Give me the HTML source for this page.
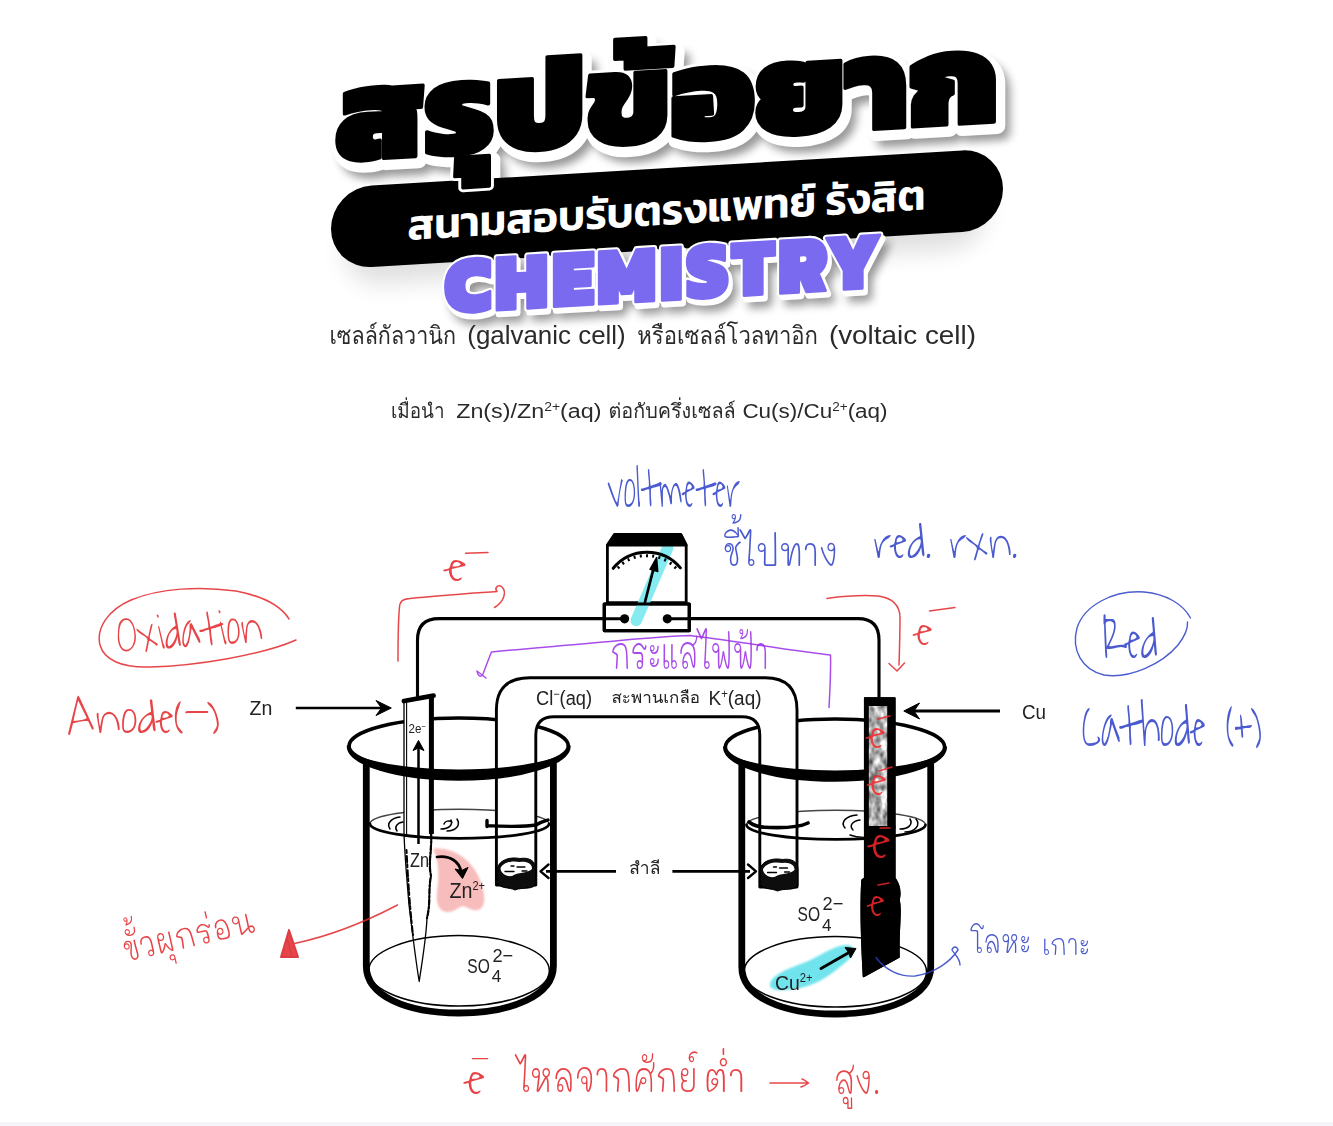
<!DOCTYPE html>
<html lang="th">
<head>
<meta charset="utf-8">
<title>สรุปข้อยาก CHEMISTRY</title>
<style>
html,body{margin:0;padding:0;background:#fff;}
body{width:1333px;height:1126px;position:relative;overflow:hidden;font-family:"Liberation Sans","Loma","Noto Sans Thai",sans-serif;}
.abs{position:absolute;white-space:nowrap;}
svg text{white-space:pre;}
</style>
</head>
<body>
<svg id="hdrsvg" class="abs" style="left:0;top:0" width="1333" height="340" viewBox="0 0 1333 340">
<defs>
<filter id="sh" x="-5%" y="-20%" width="110%" height="150%"><feGaussianBlur stdDeviation="4.5"/></filter>
<filter id="sh2" x="-10%" y="-50%" width="120%" height="250%"><feGaussianBlur stdDeviation="12"/></filter>
</defs>
<g transform="translate(0,39.6) skewY(-3.4)">
  <g transform="translate(667,0) scale(1.05,1)" font-family="Kanit, Prompt, 'Liberation Sans', 'Noto Sans Thai', sans-serif" font-weight="900" font-size="131" text-anchor="middle" stroke-linejoin="round">
    <text x="9" y="154" fill="#000" opacity=".4" filter="url(#sh)" stroke="#000" stroke-width="12">สรุปข้อยาก</text>
    <text x="3" y="146" fill="#fff" stroke="#fff" stroke-width="15">สรุปข้อยาก</text>
  </g>
  <rect x="345" y="196" width="640" height="70" rx="35" fill="#000" opacity=".13" filter="url(#sh2)"/>
  <rect x="331" y="168" width="672" height="81.5" rx="40.75" fill="#000"/>
  <g transform="translate(667,0) scale(1.05,1)" font-family="Kanit, Prompt, 'Liberation Sans', 'Noto Sans Thai', sans-serif" font-weight="900" font-size="131" text-anchor="middle" stroke-linejoin="round">
    <text x="0" y="141.5" fill="#000" stroke="#fff" stroke-width="9">สรุปข้อยาก</text>
    <text x="0" y="141.5" fill="#000" stroke="#000" stroke-width="3.5">สรุปข้อยาก</text>
  </g>
  <text x="666.5" y="224.6" text-anchor="middle" fill="#fff" font-family="Kanit, Prompt, 'Liberation Sans', 'Noto Sans Thai', sans-serif" font-weight="600" font-size="42.5">สนามสอบรับตรงแพทย์ รังสิต</text>
  <g transform="translate(662,300) scale(1,1.07)" font-family="Kanit, Prompt, 'Liberation Sans', sans-serif" font-weight="900" font-size="76" letter-spacing="2.9" text-anchor="middle" stroke-linejoin="round">
    <text x="9" y="9" fill="#000" opacity=".4" filter="url(#sh)" stroke="#000" stroke-width="6">CHEMISTRY</text>
    <text x="4.2" y="3.6" fill="#fff" stroke="#fff" stroke-width="6.5">CHEMISTRY</text>
    <text x="2" y="0" fill="#fff" stroke="#fff" stroke-width="6.5">CHEMISTRY</text>
    <text x="2" y="0" fill="#7a6af0" stroke="#7a6af0" stroke-width="2.6">CHEMISTRY</text>
  </g>
</g>
</svg>
<!--DIAGRAM-START-->
<svg id="dia" class="abs" style="left:0;top:0" width="1333" height="1126" viewBox="0 0 1333 1126">
<defs>
<filter id="soft" x="-5%" y="-5%" width="110%" height="110%"><feGaussianBlur stdDeviation="0.4"/></filter>
<filter id="hl" x="-20%" y="-20%" width="140%" height="140%"><feGaussianBlur stdDeviation="1.3"/></filter>
<filter id="mot" x="0" y="0" width="100%" height="100%" color-interpolation-filters="sRGB"><feTurbulence type="fractalNoise" baseFrequency="0.16 0.1" numOctaves="2" seed="7" result="n"/><feColorMatrix in="n" type="matrix" values="1.3 0 0 0 0.05  1.3 0 0 0 0.05  1.3 0 0 0 0.05  0 0 0 0 1" result="g"/><feComposite in="g" in2="SourceGraphic" operator="in"/></filter>
<pattern id="spk" width="9" height="11" patternUnits="userSpaceOnUse"><rect width="9" height="11" fill="#b7b7b7"/><rect x="1" y="2" width="3" height="3" fill="#9c9c9c"/><rect x="5" y="6" width="3" height="4" fill="#d0d0d0"/><rect x="6" y="0" width="2" height="3" fill="#a8a8a8"/></pattern>
</defs>
<rect id="botline" x="0" y="1122" width="1333" height="4" fill="#f4f4fa"/>
<!-- body text lines -->
<g id="lines" font-family="'Liberation Sans','Loma','Noto Sans Thai',sans-serif" fill="#2b2b2b" filter="url(#soft)">
  <g font-size="25">
    <text x="329.5" y="344.3" textLength="126.5" lengthAdjust="spacingAndGlyphs">เซลล์กัลวานิก</text>
    <text x="467.3" y="344.3" textLength="158.4" lengthAdjust="spacingAndGlyphs">(galvanic cell)</text>
    <text x="637.2" y="344.3" textLength="180.8" lengthAdjust="spacingAndGlyphs">หรือเซลล์โวลทาอิก</text>
    <text x="828.9" y="344.3" textLength="147.1" lengthAdjust="spacingAndGlyphs">(voltaic cell)</text>
  </g>
  <g font-size="20">
    <text x="390.9" y="417.8" textLength="53.6" lengthAdjust="spacingAndGlyphs">เมื่อนำ</text>
    <text x="456.2" y="417.8" textLength="145.3" lengthAdjust="spacingAndGlyphs">Zn(s)/Zn<tspan font-size="12" dy="-7">2+</tspan><tspan dy="7">(aq)</tspan></text>
    <text x="608.5" y="417.8" textLength="127.2" lengthAdjust="spacingAndGlyphs">ต่อกับครึ่งเซลล์</text>
    <text x="742.4" y="417.8" textLength="145.2" lengthAdjust="spacingAndGlyphs">Cu(s)/Cu<tspan font-size="12" dy="-7">2+</tspan><tspan dy="7">(aq)</tspan></text>
  </g>
</g>
<!-- highlights under ink -->
<g filter="url(#hl)">
  <path d="M636.5,620 L667,548" stroke="#6fe6ee" stroke-width="11" stroke-linecap="round" fill="none"/>
  <path d="M433,849 C450,846 472,858 480,880 C486,895 486,908 478,910 C470,912 466,904 460,907 C452,913 442,915 438,905 C434,893 444,872 433,849 Z" fill="#f7bcbc"/>
  <path d="M770,985 C770,975 790,968 806,962 C822,955 836,944 848,945 C856,946 854,956 846,962 C834,972 820,984 800,988 C786,991 770,992 770,985 Z" fill="#6fe3ec"/>
</g>
<g id="diagram" filter="url(#soft)" fill="none" stroke="#000" stroke-linecap="round" stroke-linejoin="round">
  <!-- wire -->
  <path d="M417.5,696 V640 Q417.5,618.6 439,618.6 H858 Q879,618.6 879,640 V698" stroke-width="3.1"/>
  <!-- voltmeter -->
  <path d="M607.4,545 L614.6,534.4 H680.8 L686.2,545 V602.6 H607.4 Z" fill="#fff" stroke-width="2.8"/>
  <rect x="604.3" y="604" width="85" height="26.6" fill="#fff" stroke-width="3.2"/>
  <path d="M604.3,618.7 H624 M668,618.7 H689.3" stroke-width="3.1"/>
  <path d="M636.2,620.5 L667.6,548" stroke="#7be9f0" stroke-width="11.5" opacity=".92"/>
  <path d="M607.4,545.4 L614.6,534.4 H680.8 L686.2,545.4 Z" fill="#000" stroke-width="2.4"/>
  <rect x="604.3" y="604" width="85" height="26.6" stroke-width="3.2"/>
  <circle cx="624.6" cy="618.8" r="4.6" fill="#000" stroke="none"/>
  <circle cx="667.3" cy="618.8" r="4.6" fill="#000" stroke="none"/>
  <path d="M613.2,568.3 A43.5,43.5 0 0 1 680.4,567.9" stroke-width="3"/>
  <path transform="translate(0,1.3)" d="M617.5,565 l2,2.2 M622.3,560.6 l1.7,2.5 M628,557 l1.3,2.8 M634.2,554.6 l.9,2.9 M640.6,553.2 l.4,3 M647,553 v3 M653.4,553.4 l-.5,3 M659.8,554.8 l-.9,2.9 M665.8,557.2 l-1.3,2.8 M671.5,560.8 l-1.7,2.5 M676.3,565.2 l-2,2.2" stroke-width="2" stroke-linecap="butt"/>
  <path d="M645,602 L654.2,566" stroke-width="2.7"/>
  <path d="M656.6,557.5 L657.8,571.6 L650,569.4 Z" fill="#000" stroke-width="1.4"/>
  <!-- back halves of ellipses -->
  <path d="M349.1,746 A109.6,28 0 0 1 568.3,746" stroke-width="3.6"/>
  <path d="M725.4,747 A109.6,28 0 0 1 944.6,747" stroke-width="3.6"/>
  <path d="M370,823.8 A89.5,14.6 0 0 1 549,823.8" stroke="#444" stroke-width="1.4"/>
  <path d="M746.5,824.8 A89.5,14.6 0 0 1 925.5,824.8" stroke="#444" stroke-width="1.4"/>
  <!-- ripples -->
  <path d="M390,829 c-4,-6 2,-11 10,-12 M397,831 c-3,-4 0,-8 6,-9 M441,829 c8,0 12,-4 10,-9 M447,831 c9,0 14,-6 10,-12 M452,822 c-3,-2 -7,-1 -8,2" stroke-width="1.5"/>
  <path d="M845,828 c-5,-6 1,-12 12,-13 M853,830 c-4,-4 -1,-9 7,-10 M900,829 c9,0 13,-5 10,-10 M905,832 c10,0 16,-7 11,-13 M850,835 c8,3 20,3 28,1" stroke-width="1.5"/>
  <!-- Zn electrode -->
  <path d="M404,701 L431.5,696 V834 C432.5,850 428,862 431,876 C428,890 431,902 427,918 C426,940 422,962 419.2,981.5 C416,962 412,930 409,905 C407,880 405,860 404,834 Z" fill="#fff" stroke-width="1.3"/>
  <path d="M406.6,702 V834" stroke-width="1.1"/>
  <path d="M431.4,696 V834" stroke-width="5" stroke-linecap="butt"/>
  <path d="M404,701 L433.5,695.6" stroke-width="4.8"/>
  <path d="M431,834 C432,850 428,862 431,876 C428,890 431,902 427,918" stroke-width="2.2" stroke-dasharray="5 2 2 2"/>
  <path d="M406.5,850 C408,880 410,910 413,935" stroke-width="2" stroke-dasharray="3 3 6 2"/>
  <!-- Cu electrode -->
  <path d="M864.7,698 H894.8 V878 C899,884 901,892 899,900 C902,912 898,925 899,957 L863.5,976.5 C862,950 860.5,905 862,880 L864.7,878 Z" fill="#000" stroke-width="1.5"/>
  <rect x="868.8" y="706" width="18.7" height="120" fill="#b5b5b5" stroke="none" filter="url(#mot)"/>
  <!-- salt bridge -->
  <path d="M496.4,885 V710 Q496.4,677.8 530,677.8 H765 Q797,677.8 797,710 V887 H759.8 V735 Q759.8,716.8 742,716.8 H554 Q535.8,716.8 535.8,735 V885 Z" fill="#fff" stroke-width="2.9"/>
  <!-- cotton plugs -->
  <g id="cot1">
    <path d="M497.5,868 C499,860 510,856.5 520,858.5 C529,857 535.5,861 535.5,868 V885 C531,890 521,887 515,890 C509,887 500,889 497.5,883 Z" fill="#0a0a0a" stroke-width="1"/>
    <path d="M500.5,868 C504,861.5 513,860.5 520,862 C527,861 532.5,864 532,869 C527,873.5 518,872 512,876 C506,877 500.5,873 500.5,868 Z" fill="#fff" stroke="none"/>
    <path d="M505,871.5 h9 M517,867 h8 M511,866 h3 M522,871 h5" stroke-width="1.3"/>
  </g>
  <g id="cot2" transform="translate(262.5,1)">
    <path d="M497.5,868 C499,860 510,856.5 520,858.5 C529,857 535.5,861 535.5,868 V885 C531,890 521,887 515,890 C509,887 500,889 497.5,883 Z" fill="#0a0a0a" stroke-width="1"/>
    <path d="M500.5,868 C504,861.5 513,860.5 520,862 C527,861 532.5,864 532,869 C527,873.5 518,872 512,876 C506,877 500.5,873 500.5,868 Z" fill="#fff" stroke="none"/>
    <path d="M505,871.5 h9 M517,867 h8 M511,866 h3 M522,871 h5" stroke-width="1.3"/>
  </g>
  <!-- front parts -->
  <g id="bk1">
    <path d="M347.5,746 A111.2,34 0 0 0 569.9,746 A111.2,24.2 0 0 1 347.5,746 Z" fill="#000" stroke-width="1.6"/><path d="M349.1,746 A109.6,27 0 0 0 568.3,746" stroke-width="3.4"/><path d="M366.3,764 V966 C366.3,996 406.7,1013 458.7,1013 C510.7,1013 553.4,996 553.4,966 V764" stroke-width="6.8"/><ellipse cx="459.0" cy="970.8" rx="90.34999999999998" ry="35.2" stroke-width="1.5"/>
    <path d="M370,823.8 A89.5,14.6 0 0 0 549,823.8" stroke-width="2.7"/>
    <path d="M487,820.5 v6 M487,825.6 C500,826.5 525,827 536,825 C541,822 545,821 548,820" stroke-width="3.4"/>
  </g>
  <g id="bk2">
    <path d="M723.8,747 A111.2,34 0 0 0 946.2,747 A111.2,24.2 0 0 1 723.8,747 Z" fill="#000" stroke-width="1.6"/><path d="M725.4,747 A109.6,27 0 0 0 944.6,747" stroke-width="3.4"/><path d="M741.8,765 V967 C741.8,997 783.0,1014 835.0,1014 C887.0,1014 930.7,997 930.7,967 V765" stroke-width="6.8"/><ellipse cx="835.3" cy="971.8" rx="91.25000000000004" ry="35.2" stroke-width="1.5"/>
    <path d="M746.5,824.8 A89.5,14.6 0 0 0 925.5,824.8" stroke-width="2.7"/>
    <path d="M749,822 C754,826 760,827.5 770,827.5 C785,828 800,827 808,823" stroke-width="3.6"/>
  </g>
  <!-- Cu electrode again in front of the water/rim lines (it is opaque black) -->
  <path d="M864.7,826 H894.8 V878 C899,884 901,892 899,900 C902,912 898,925 899,957 L863.5,976.5 C862,950 860.5,905 862,880 L864.7,878 Z" fill="#000" stroke-width="1.5"/>
  <rect x="864.7" y="698" width="30.1" height="130" fill="#000" stroke-width="1.5"/>
  <rect x="868.8" y="706" width="18.7" height="120" fill="#b5b5b5" stroke="none" filter="url(#mot)"/>
  <path d="M866.3,700 V826 M892,700 V826" stroke-width="4" stroke-linecap="butt"/>
  <path d="M891,700 V826" stroke-width="7" stroke-linecap="butt"/>
  <!-- arrows -->
  <g stroke-width="2.7" stroke-linecap="butt">
    <path d="M295.8,708 H383"/>
    <path d="M391.3,708 L376,700.5 L381.5,708 L376,715.5 Z" fill="#000" stroke-width="1"/>
    <path d="M1000,711 H912" stroke-width="3"/>
    <path d="M903.8,711 L919.5,703 L914,711 L919.5,719 Z" fill="#000" stroke-width="1"/>
    <path d="M616,871.3 H546"/>
    <path d="M548.5,864.5 L540.5,871.3 L548.5,878" stroke-width="2.4" stroke-linecap="round"/>
    <path d="M672.4,871.3 H750"/>
    <path d="M748,864.5 L756,871.3 L748,878" stroke-width="2.4" stroke-linecap="round"/>
    <path d="M418.5,844 V747" stroke-width="2.5"/>
    <path d="M418.5,740.5 L413,750.5 L418.5,748 L424,750.5 Z" fill="#000" stroke-width="1"/>
    <path d="M437,857 C450,855 460,862 461,872" stroke-width="2.7" stroke-linecap="round"/>
    <path d="M455,869 L462.5,878.5 L468,867.5 L461.5,870.5 Z" fill="#000" stroke-width="1"/>
    <path d="M821,968.5 L849,952.5" stroke-width="2.9" stroke-linecap="round"/>
    <path d="M856,948.5 L845,947.5 L848.5,952.5 L850.5,958 Z" fill="#000" stroke-width="1"/>
  </g>
</g>
<!-- printed labels -->
<g id="labels" font-family="'Liberation Sans','Loma','Noto Sans Thai',sans-serif" fill="#222" filter="url(#soft)">
  <text x="249.6" y="714.6" font-size="21" textLength="22.8" lengthAdjust="spacingAndGlyphs">Zn</text>
  <text x="1022" y="719" font-size="21" textLength="24" lengthAdjust="spacingAndGlyphs">Cu</text>
  <text x="536" y="705" font-size="20" textLength="56" lengthAdjust="spacingAndGlyphs">Cl<tspan font-size="12" dy="-7">−</tspan><tspan dy="7">(aq)</tspan></text>
  <text x="611.5" y="702.5" font-size="16" textLength="88.5" lengthAdjust="spacingAndGlyphs">สะพานเกลือ</text>
  <text x="708.5" y="705" font-size="20" textLength="53" lengthAdjust="spacingAndGlyphs">K<tspan font-size="12" dy="-7">+</tspan><tspan dy="7">(aq)</tspan></text>
  <text x="629.2" y="873.6" font-size="17" textLength="31.2" lengthAdjust="spacingAndGlyphs">สำลี</text>
  <text x="408.5" y="733" font-size="12.5" textLength="17.5" lengthAdjust="spacingAndGlyphs">2e<tspan font-size="8.5" dy="-4.5">−</tspan></text>
  <text x="410" y="866.5" font-size="20" textLength="19" lengthAdjust="spacingAndGlyphs">Zn</text>
  <text x="449.5" y="897.5" font-size="21.5" textLength="35.5" lengthAdjust="spacingAndGlyphs">Zn<tspan font-size="12" dy="-7.5">2+</tspan></text>
  <text x="467.3" y="972.8" font-size="19.3" textLength="22.5" lengthAdjust="spacingAndGlyphs">SO</text>
  <text x="491.8" y="982.3" font-size="15.8" textLength="9.5" lengthAdjust="spacingAndGlyphs">4</text>
  <text x="492.4" y="961.6" font-size="19" textLength="20.8" lengthAdjust="spacingAndGlyphs">2−</text>
  <text x="797.6" y="921.3" font-size="19.3" textLength="22.5" lengthAdjust="spacingAndGlyphs">SO</text>
  <text x="822" y="930.8" font-size="15.8" textLength="9.5" lengthAdjust="spacingAndGlyphs">4</text>
  <text x="822.6" y="910" font-size="19" textLength="20.8" lengthAdjust="spacingAndGlyphs">2−</text>
  <text x="775" y="989.5" font-size="21" textLength="37.5" lengthAdjust="spacingAndGlyphs">Cu<tspan font-size="12" dy="-7.5">2+</tspan></text>
</g>
<g id="hand" opacity=".85" fill="none" stroke-linecap="round" stroke-linejoin="round" filter="url(#soft)">
  <!-- red strokes -->
  <g stroke="#e3272c" stroke-width="1.5">
    <path d="M289,619 C281,606 262,596 236,591 C200,586 160,588 131,600 C108,610 96,628 100,645 C104,660 122,668 150,667 C196,666 262,655 296,640"/>
    <path d="M398,661 C398,640 398,622 399.5,607 C400,601 403,599 410,598.5 C440,595.5 470,593.5 497,591.5 C494,588 498,584 502,587 C507,592 504,602 494.5,607.5"/>
    <path d="M827,598.5 C845,596 862,595 878,596 C893,598 900,605 900,618 C900,635 899.5,650 899,665 M889,663.5 L897,671 L904.5,663"/>
    <path d="M397.5,905 C365,922 330,936 294.5,943.5"/>
    <path d="M289,930 L281,957 L298,957 Z M287,938 L292,956" fill="#e3272c" stroke="#d81f25" stroke-width="2" opacity="1"/>
    <path d="M465.5,553.2 L488,552.5"/>
    <path d="M929.5,611 L955,607.5"/>
    <path d="M878,719 L890,716 M879,771 L892,767 M880,828 L890,828 M878,885 L889,883" stroke="#f5262b"/>
    <path d="M770,1083 C783,1083 796,1083 808,1083 M802,1079 C805,1080 807,1082 808.5,1083 C806,1085 804,1086 801,1087"/>
  </g>
  <!-- blue strokes -->
  <g stroke="#2d40c6" stroke-width="1.4">
    <path d="M1190.5,618 C1183,604 1166,594 1144,592 C1112,590 1084,606 1077,628 C1071,650 1082,670 1104,675 C1130,679 1162,664 1178,645 C1185,636 1188,628 1187.5,622"/>
    <path d="M876,957.5 C885,970 900,977 915,976 C935,973 950,962 958,950 C957,946 953,946 952,950 C955,955 960,958 960,965"/>
  </g>
  <!-- purple strokes -->
  <g stroke="#9a2fe6" stroke-width="1.5">
    <path d="M477,671 C478,676 481,678 483,674 C486,666 489,658 491.5,652 C530,648 570,645 610,641.5 C640,638.5 665,636.5 690,635.5 C720,639 750,644 775,647.5 C795,650.5 815,653 830.5,655 C831,672 830,690 829,707.5 M477,671 C480,673 483,676 486,678"/>
  </g>
</g>
<!-- handwritten words -->
<g id="handtext" opacity=".86" stroke="none" filter="url(#soft)">
  <g fill="#e3272c" font-family="'Waiting for the Sunrise','Annie Use Your Telescope','Caveat','Liberation Sans','Mali','Loma',sans-serif">
    <text transform="translate(118,652) rotate(-4)" font-size="52" textLength="146" lengthAdjust="spacingAndGlyphs">Oxidation</text>
    <text x="68" y="733" font-size="48" textLength="152" lengthAdjust="spacingAndGlyphs">Anode(-)</text>
    <text x="445" y="581" font-size="46" textLength="22" lengthAdjust="spacingAndGlyphs">e</text>
    <text x="914" y="645" font-size="44" textLength="19" lengthAdjust="spacingAndGlyphs">e</text>
    <g font-size="44" fill="#f5262b">
      <text x="867" y="748" textLength="19" lengthAdjust="spacingAndGlyphs">e</text>
      <text x="868" y="795" textLength="19" lengthAdjust="spacingAndGlyphs">e</text>
      <text x="869" y="858" textLength="22" lengthAdjust="spacingAndGlyphs" font-size="52">e</text>
      <text x="868" y="916" textLength="17" lengthAdjust="spacingAndGlyphs">e</text>
    </g>
    <text x="465" y="1094" font-size="50" textLength="24" lengthAdjust="spacingAndGlyphs">e<tspan dy="-22" dx="-12" font-size="30">-</tspan></text>
  </g>
  <g fill="#e3272c" font-family="'Mali','Thasadith','Liberation Sans','Loma','Noto Sans Thai',sans-serif" font-weight="300">
    <text transform="translate(126,962) rotate(-13)" font-size="34" textLength="134" lengthAdjust="spacingAndGlyphs">ขั้วผุกร่อน</text>
    <text x="517" y="1092" font-size="40" textLength="181" lengthAdjust="spacingAndGlyphs">ไหลจากศักย์</text>
    <text x="703" y="1092" font-size="38" textLength="43" lengthAdjust="spacingAndGlyphs">ต่ำ</text>
    <text x="834" y="1094" font-size="38" textLength="47" lengthAdjust="spacingAndGlyphs">สูง.</text>
  </g>
  <g fill="#2d40c6" font-family="'Waiting for the Sunrise','Annie Use Your Telescope','Caveat','Liberation Sans','Mali','Loma',sans-serif">
    <text x="607" y="507" font-size="58" textLength="133" lengthAdjust="spacingAndGlyphs">voltmeter</text>
    <text x="873.5" y="558" font-size="52" textLength="58" lengthAdjust="spacingAndGlyphs">red.</text>
    <text x="949.5" y="558" font-size="52" textLength="68" lengthAdjust="spacingAndGlyphs">rxn.</text>
    <text x="1102" y="657.5" font-size="60" textLength="56" lengthAdjust="spacingAndGlyphs">Red</text>
    <text x="1082" y="746" font-size="62" textLength="180" lengthAdjust="spacingAndGlyphs">Cathode (+)</text>
  </g>
  <g fill="#2d40c6" font-family="'Mali','Thasadith','Liberation Sans','Loma','Noto Sans Thai',sans-serif" font-weight="300">
    <text x="723" y="566" font-size="38" textLength="115" lengthAdjust="spacingAndGlyphs">ชี้ไปทาง</text>
    <text x="971" y="953" font-size="32" textLength="60" lengthAdjust="spacingAndGlyphs">โลหะ</text>
    <text x="1042" y="955" font-size="28" textLength="48" lengthAdjust="spacingAndGlyphs">เกาะ</text>
  </g>
  <g fill="#9a2fe6" font-family="'Mali','Thasadith','Liberation Sans','Loma','Noto Sans Thai',sans-serif" font-weight="300">
    <text x="610" y="669" font-size="43" textLength="159" lengthAdjust="spacingAndGlyphs">กระแสไฟฟ้า</text>
  </g>
</g>

</svg>
<!--DIAGRAM-END-->
</body>
</html>
